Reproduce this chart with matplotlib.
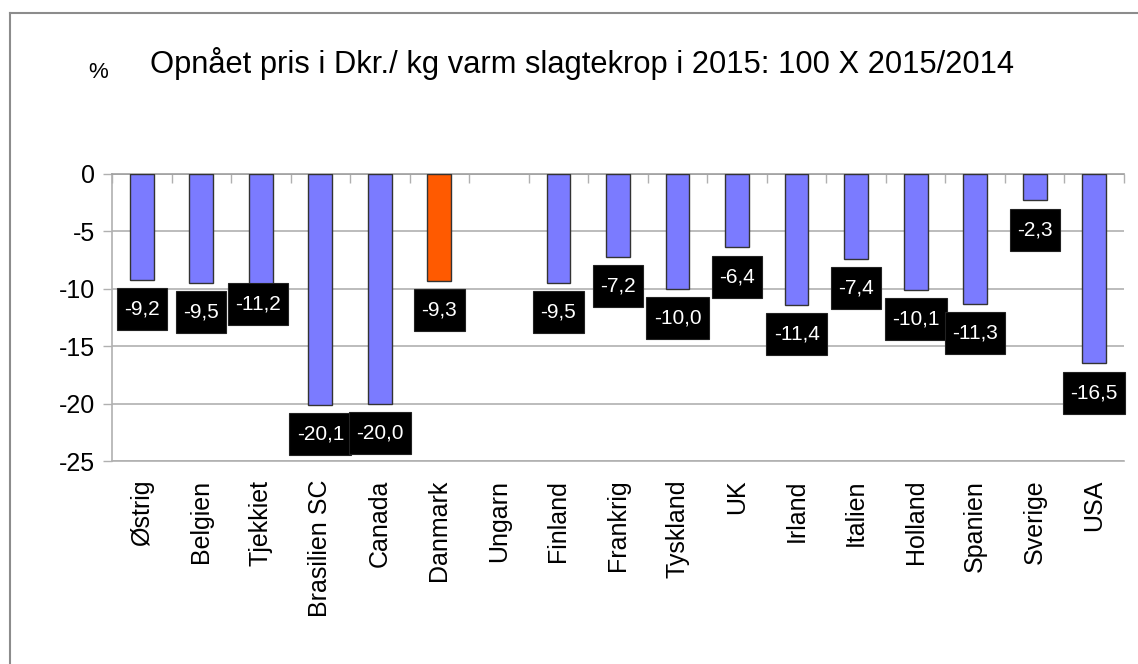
import matplotlib.pyplot as plt
from matplotlib.path import Path
import numpy as np

plt.rcParams['font.family'] = ['Liberation Sans', 'DejaVu Sans']

countries = ['Østrig', 'Belgien', 'Tjekkiet', 'Brasilien SC', 'Canada', 'Danmark',
             'Ungarn', 'Finland', 'Frankrig', 'Tyskland', 'UK', 'Irland', 'Italien',
             'Holland', 'Spanien', 'Sverige', 'USA']
change = [-9.2, -9.5, -11.2, -20.1, -20.0, -9.3, np.nan, -9.5, -7.2, -10.0,
          -6.4, -11.4, -7.4, -10.1, -11.3, -2.3, -16.5]
highlight = 'Danmark'

title = 'Opnået pris i Dkr./ kg varm slagtekrop i 2015: 100 X 2015/2014'

blue = '#7b7bff'
orange = '#ff5a00'
grid_c = '#b0b0b0'


def label_box(x0, y0, width, height, mutation_size):
    # black label box, taller padding than wide (like the Excel labels)
    px = 0.35 * mutation_size
    py = 0.55 * mutation_size
    return Path([(x0 - px, y0 - py), (x0 + width + px, y0 - py),
                 (x0 + width + px, y0 + height + py), (x0 - px, y0 + height + py),
                 (x0 - px, y0 - py)], closed=True)


fig = plt.figure(figsize=(11.38, 6.64), dpi=100)
ax = fig.add_axes([0.0984, 0.3057, 0.8893, 0.4323])

x = np.arange(len(countries))
colors = [orange if c == highlight else blue for c in countries]
ax.bar(x, change, width=0.4, color=colors, edgecolor='#333333', linewidth=1.0, zorder=3)

# data labels: black boxes below the bar ends
for i, v in enumerate(change):
    if np.isnan(v):
        continue
    dy = -21
    dx = 0
    if countries[i] == 'Tjekkiet':
        dy = -1
        dx = -2
    ax.annotate(('%.1f' % v).replace('.', ','), (x[i], v), xytext=(dx, dy),
                textcoords='offset points', ha='center', va='center',
                color='white', fontsize=15, zorder=5,
                bbox=dict(boxstyle=label_box, fc='black', ec='#222222', lw=0.8))

ax.set_xlim(-0.5, len(countries) - 0.5)
ax.set_ylim(-25, 0)
ax.set_yticks([0, -5, -10, -15, -20, -25])
ax.set_yticklabels(['0', '-5', '-10', '-15', '-20', '-25'])
ax.yaxis.grid(True, color=grid_c, linewidth=1.2, zorder=0)
ax.tick_params(axis='y', length=6.5, width=1.0, color=grid_c, labelsize=18, pad=5.5)

# tick marks at category boundaries hanging from the zero line, labels at bottom
ax.set_xticks(np.arange(len(countries) + 1) - 0.5)
ax.set_xticklabels([])
ax.tick_params(axis='x', which='major', bottom=False, top=True, direction='in',
               length=6.5, width=1.0, color=grid_c)
ax.set_xticks(x, minor=True)
ax.set_xticklabels(countries, minor=True, rotation=90, fontsize=18)
ax.tick_params(axis='x', which='minor', length=0, pad=13.5)

for s in ['left', 'bottom', 'top']:
    ax.spines[s].set_color(grid_c)
    ax.spines[s].set_linewidth(1.2)
ax.spines['top'].set_color('#a0a0a0')
ax.spines['right'].set_visible(False)

fig.text(150 / 1138, 1 - 73 / 664, title, fontsize=22.2, ha='left', va='baseline')
fig.text(88 / 1138, 1 - 78 / 664, '%', fontsize=16, ha='left', va='baseline')

# outer chart frame (runs off the right and bottom edges)
fig.add_artist(plt.Line2D([10 / 1138, 1.01], [1 - 13.3 / 664] * 2, transform=fig.transFigure,
                          color='#8c8c8c', lw=1.5))
fig.add_artist(plt.Line2D([10 / 1138] * 2, [-0.01, 1 - 13.3 / 664], transform=fig.transFigure,
                          color='#8c8c8c', lw=1.5))

fig.savefig('out.png', dpi=100)
